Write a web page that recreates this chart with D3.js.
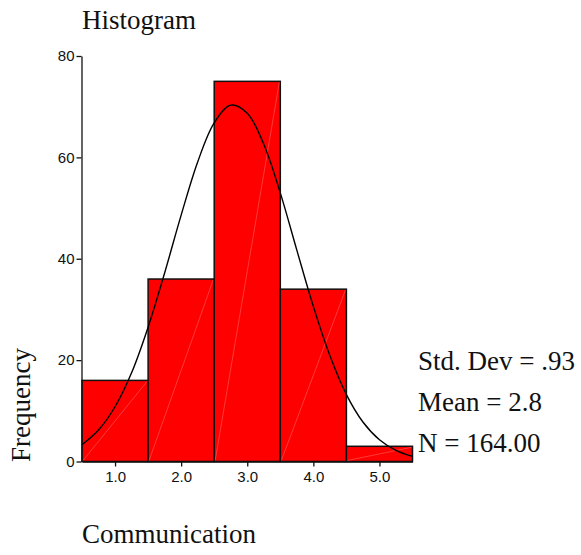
<!DOCTYPE html>
<html>
<head>
<meta charset="utf-8">
<script src="https://cdn.jsdelivr.net/npm/d3@7"></script>
<style>
  body { margin: 0; background: #fff; }
  svg text.serif { font-family: "Liberation Serif", "Times New Roman", serif; fill: #111; }
</style>
</head>
<body>
<div id="chart-container"></div>
<script>
// bins (midpoints) and counts
const binMids = [1.0, 2.0, 3.0, 4.0, 5.0];
const counts = [16, 36, 75, 34, 3];
const yTicks = [0, 20, 40, 60, 80];
const xTickLabels = ["1.0", "2.0", "3.0", "4.0", "5.0"];
// fitted normal curve, every 0.25
const curveX = [0.5, 0.75, 1.0, 1.25, 1.5, 1.75, 2.0, 2.25, 2.5, 2.75, 3.0,
  3.25, 3.5, 3.75, 4.0, 4.25, 4.5, 4.75, 5.0, 5.25, 5.5];
const curveY = [3.3, 6.2, 10.8, 17.5, 26.5, 37.2, 48.6, 59.1, 66.8, 70.3, 68.7,
  62.6, 53.0, 41.7, 30.6, 20.9, 13.2, 7.8, 4.3, 2.2, 1.0];
const statLines = ["Std. Dev = .93", "Mean = 2.8", "N = 164.00"];

const width = 581, height = 555;
const svg = d3.select("#chart-container").append("svg")
  .attr("width", width).attr("height", height);

const x = d3.scaleLinear().domain([0.5, 5.5]).range([82, 412.5]);
const y = d3.scaleLinear().domain([0, 80]).range([461.5, 56]);

// bars
const bars = svg.append("g");
bars.selectAll("rect").data(binMids).enter().append("rect")
  .attr("x", d => x(d - 0.5))
  .attr("width", d => x(d + 0.5) - x(d - 0.5))
  .attr("y", (d, i) => y(counts[i]))
  .attr("height", (d, i) => y(0) - y(counts[i]))
  .attr("fill", "#ff0000")
  .attr("stroke", "#111")
  .attr("stroke-width", 1.5);

// faint diagonal inside every bar
bars.selectAll("line").data(binMids).enter().append("line")
  .attr("x1", d => x(d - 0.5) + 1)
  .attr("y1", y(0) - 1)
  .attr("x2", d => x(d + 0.5) - 1)
  .attr("y2", (d, i) => y(counts[i]) + 1)
  .attr("stroke", "#ffa0a0")
  .attr("stroke-width", 0.6)
  .attr("opacity", 0.6);

// normal curve
const line = d3.line()
  .x((d, i) => x(curveX[i]))
  .y(d => y(d))
  .curve(d3.curveCatmullRom);
svg.append("path").datum(curveY)
  .attr("d", line)
  .attr("fill", "none")
  .attr("stroke", "#000")
  .attr("stroke-width", 1.4);

// axes
const yAxis = d3.axisLeft(y).tickValues(yTicks).tickSize(5).tickSizeOuter(0)
  .tickFormat(d3.format("d"));
svg.append("g")
  .attr("transform", `translate(${x(0.5) - 0.5},0)`)
  .call(yAxis)
  .attr("font-family", "Liberation Sans, Arial, sans-serif")
  .attr("font-size", 15)
  .call(g => g.selectAll("line, path").attr("stroke", "#111").attr("stroke-width", 1.3))
  .call(g => g.selectAll("text").attr("x", -7).attr("fill", "#111"));

const xAxis = d3.axisBottom(x).tickValues(binMids).tickSize(5).tickSizeOuter(0)
  .tickFormat((d, i) => xTickLabels[i]);
svg.append("g")
  .attr("transform", `translate(0,${y(0)})`)
  .call(xAxis)
  .attr("font-family", "Liberation Sans, Arial, sans-serif")
  .attr("font-size", 15)
  .call(g => g.selectAll("line, path").attr("stroke", "#111").attr("stroke-width", 1.3))
  .call(g => g.selectAll("text").attr("y", 10).attr("fill", "#111"));

// titles
svg.append("text").attr("class", "serif")
  .attr("x", 82).attr("y", 29)
  .style("font-size", "27px")
  .text("Histogram");

svg.append("text").attr("class", "serif")
  .attr("x", 82).attr("y", 543)
  .style("font-size", "27px")
  .text("Communication");

svg.append("text").attr("class", "serif")
  .attr("transform", "translate(30,462) rotate(-90)")
  .style("font-size", "27px")
  .text("Frequency");

svg.append("g").selectAll("text").data(statLines).enter().append("text")
  .attr("class", "serif")
  .attr("x", 418)
  .attr("y", (d, i) => 370 + i * 40.8)
  .style("font-size", "27px")
  .text(d => d);
</script>
</body>
</html>
